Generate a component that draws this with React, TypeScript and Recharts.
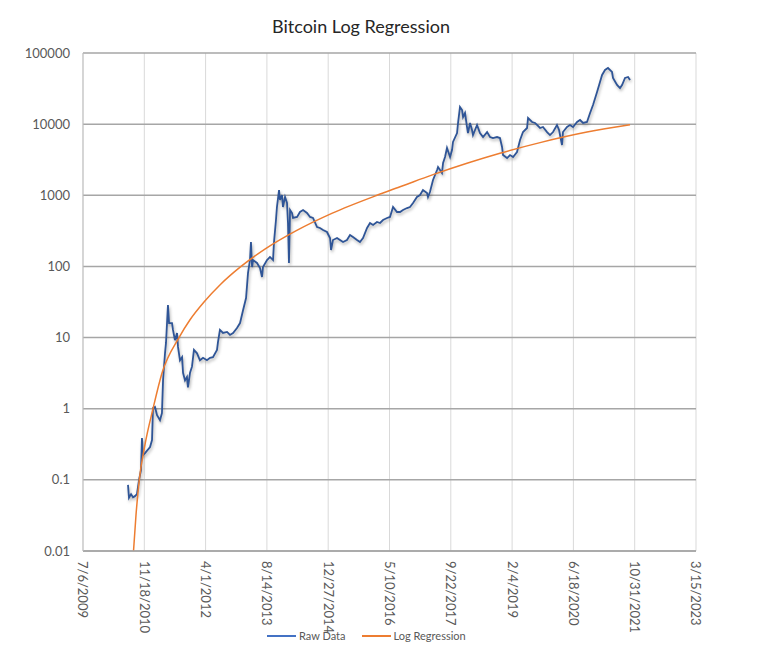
import React from 'react';
import { LineChart, Line, XAxis, YAxis, CartesianGrid } from 'recharts';

// x values are Excel serial day numbers (40000 = 7/6/2009)
const rawDays = [
    40367, 40375, 40392, 40408, 40424, 40440, 40457, 40473, 40481, 40489,
    40506, 40547, 40563, 40571, 40587, 40604, 40628, 40644, 40653, 40669,
    40677, 40693, 40702, 40726, 40734, 40750, 40767, 40775, 40791, 40808,
    40816, 40832, 40848, 40856, 40873, 40889, 40905, 40930, 40954, 40979,
    41011, 41036, 41060, 41093, 41101, 41117, 41142, 41175, 41199, 41224,
    41256, 41281, 41305, 41330, 41346, 41362, 41370, 41379, 41387, 41419,
    41444, 41460, 41468, 41501, 41525, 41550, 41558, 41574, 41582, 41599,
    41607, 41623, 41631, 41648, 41664, 41672, 41680, 41689, 41705, 41713,
    41746, 41770, 41795, 41827, 41852, 41876, 41909, 41933, 41958, 41990,
    42015, 42023, 42039, 42072, 42096, 42121, 42153, 42178, 42202, 42235,
    42259, 42284, 42317, 42341, 42366, 42398, 42423, 42447, 42480, 42504,
    42529, 42561, 42586, 42610, 42643, 42667, 42692, 42724, 42749, 42773,
    42806, 42814, 42830, 42855, 42888, 42896, 42928, 42937, 42953, 42969,
    42994, 43010, 43018, 43051, 43059, 43075, 43092, 43100, 43116, 43132,
    43140, 43157, 43173, 43181, 43214, 43238, 43263, 43296, 43320, 43344,
    43377, 43401, 43418, 43426, 43459, 43483, 43508, 43540, 43565, 43589,
    43622, 43630, 43663, 43687, 43703, 43728, 43752, 43785, 43809, 43834,
    43866, 43883, 43907, 43915, 43948, 43972, 43997, 44030, 44054, 44079,
    44111, 44136, 44160, 44193, 44217, 44234, 44258, 44282, 44315, 44323,
    44356, 44380, 44397, 44421, 44446, 44462,
];

const rawPrice = [
    0.085, 0.056, 0.063, 0.057, 0.059, 0.063, 0.1, 0.137, 0.387, 0.223,
    0.238, 0.29, 0.363, 1.02, 1.06, 0.81, 0.69, 0.87, 2.53, 6.06,
    8.4, 28.7, 16, 16, 12.8, 9.2, 11.6, 7.4, 4.8, 5.3,
    3.2, 2.5, 2.8, 2.0, 3.2, 3.9, 6.7, 6.0, 4.8, 5.2,
    4.8, 5.2, 5.3, 6.7, 8.6, 12.8, 11.6, 12, 10.9, 11.6,
    13.6, 16, 24, 36, 81, 123, 220, 98, 123, 112,
    95, 71, 98, 123, 136, 123, 220, 449, 684, 1186,
    859, 1009, 684, 946, 779, 408, 112, 621, 564, 480,
    496, 582, 621, 564, 496, 480, 358, 347, 325, 305,
    251, 170, 235, 251, 235, 220, 235, 277, 259, 235,
    220, 251, 347, 408, 382, 421, 408, 449, 480, 496,
    684, 582, 582, 621, 662, 684, 779, 946, 1009, 1186,
    1077, 946, 1112, 1641, 2265, 2496, 2057, 2844, 3452, 4625,
    3452, 4325, 5610, 7500, 10380, 17400, 15800, 12600, 14350, 9120,
    7500, 10380, 8280, 7030, 9730, 7500, 6590, 7740, 6590, 6380,
    6590, 6380, 4775, 3680, 3340, 3680, 3452, 4055, 5985, 7740,
    8830, 12190, 10720, 10380, 9730, 8830, 9120, 7740, 7030, 7740,
    9730, 8280, 5090, 7740, 9120, 9730, 9120, 10720, 11430, 10380,
    10720, 14350, 18580, 28300, 39100, 49100, 57700, 61500, 54100, 44600,
    35500, 32200, 35500, 44600, 46000, 41700,
];

const regDays = [
    40412, 40432, 40459, 40506, 40571, 40644, 40783, 40873, 40987, 41123,
    41289, 41490, 41736, 42034, 42398, 42586, 42692, 42855, 43132, 43401,
    43728, 44111, 44462,
];

const regPrice = [
    0.01, 0.0316, 0.1, 0.316, 1, 3.16, 10, 17.8, 31.6, 56.2,
    100, 178, 316, 562, 1000, 1315, 1540, 1950, 2820, 3900,
    5500, 7730, 9800,
];

const dateTicks = [40000, 40500, 41000, 41500, 42000, 42500, 43000, 43500, 44000, 44500, 45000];
const priceTicks = [0.01, 0.1, 1, 10, 100, 1000, 10000, 100000];

const rawData = rawDays.map((d, i) => ({ day: d, price: rawPrice[i] }));
const regData = regDays.map((d, i) => ({ day: d, price: regPrice[i] }));

const FONT = 'Lato, "Open Sans", sans-serif';

// Excel serial -> m/d/yyyy
const fmtDate = (serial: number) => {
    const dt = new Date(Date.UTC(1899, 11, 30) + serial * 86400000);
    return `${dt.getUTCMonth() + 1}/${dt.getUTCDate()}/${dt.getUTCFullYear()}`;
};

const DateTick = ({ x, y, payload }: any) => (
    <text
        x={x}
        y={y}
        transform={`rotate(90, ${x}, ${y})`}
        textAnchor="start"
        dy="0.35em"
        fontSize={13}
        fontFamily={FONT}
        fill="#595959"
    >
        {fmtDate(payload.value)}
    </text>
);

const App: React.FC = () => {
    return (
        <div style={{ position: 'absolute', left: 0, top: 0, width: 777, height: 668, background: '#fff' }}>
            <style>{'.raw-line .recharts-line-curve{filter:drop-shadow(1px 2px 1.5px rgba(0,0,0,0.3))}'}</style>
            <div
                style={{
                    position: 'absolute',
                    left: 0,
                    width: 722,
                    top: 15,
                    textAlign: 'center',
                    fontFamily: FONT,
                    fontSize: 18,
                    color: '#262626',
                }}
            >
                Bitcoin Log Regression
            </div>
            <LineChart
                width={777}
                height={668}
                margin={{ top: 53, right: 81, left: 0, bottom: 37 }}
            >
                <CartesianGrid horizontal={false} stroke="#d9d9d9" strokeWidth={1} />
                <CartesianGrid vertical={false} stroke="#a6a6a6" strokeWidth={1.5} />
                <XAxis
                    dataKey="day"
                    type="number"
                    domain={[40000, 45000]}
                    ticks={dateTicks}
                    interval={0}
                    height={80}
                    tickLine={false}
                    tickSize={0}
                    tickMargin={10}
                    axisLine={{ stroke: '#a6a6a6', strokeWidth: 1.5 }}
                    tick={<DateTick />}
                    allowDataOverflow
                />
                <YAxis
                    type="number"
                    scale="log"
                    domain={[0.01, 100000]}
                    ticks={priceTicks}
                    interval={0}
                    width={83}
                    tickLine={false}
                    tickSize={0}
                    tickMargin={13}
                    axisLine={{ stroke: '#bfbfbf' }}
                    tick={{ fontSize: 13, fontFamily: FONT, fill: '#595959' }}
                    tickFormatter={(v: number) => String(v)}
                    allowDataOverflow
                />
                <Line
                    data={rawData}
                    dataKey="price"
                    className="raw-line"
                    type="linear"
                    stroke="#2f5597"
                    strokeWidth={1.8}
                    dot={false}
                    isAnimationActive={false}
                    name="Raw Data"
                />
                <Line
                    data={regData}
                    dataKey="price"
                    type="monotone"
                    stroke="#ed7d31"
                    strokeWidth={1.5}
                    dot={false}
                    isAnimationActive={false}
                    name="Log Regression"
                />
            </LineChart>
            <div
                style={{
                    position: 'absolute',
                    top: 629,
                    left: 267,
                    display: 'flex',
                    alignItems: 'center',
                    fontFamily: FONT,
                    fontSize: 11,
                    color: '#595959',
                }}
            >
                <span style={{ display: 'inline-block', width: 29, height: 2, background: '#4472c4', marginRight: 3 }} />
                <span style={{ marginRight: 16 }}>Raw Data</span>
                <span style={{ display: 'inline-block', width: 29, height: 2, background: '#ed7d31', marginRight: 3 }} />
                <span>Log Regression</span>
            </div>
        </div>
    );
};

export default App;
